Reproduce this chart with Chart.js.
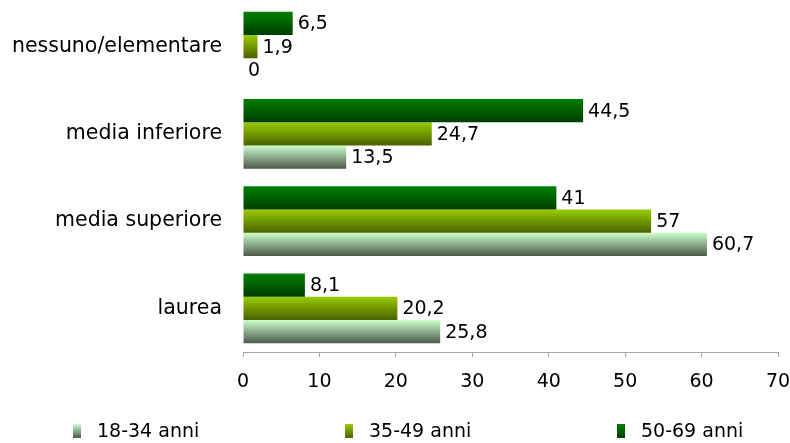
<!DOCTYPE html>
<html>
<head>
<meta charset="utf-8">
<script src="https://cdn.jsdelivr.net/npm/chart.js@4"></script>
<style>
  html, body { margin:0; padding:0; background:#fff; }
  #wrap { width:790px; height:443px; }
</style>
</head>
<body>
<div id="wrap"><canvas id="chart"></canvas></div>
<script>
// ---------- Data ----------
const categories = ['nessuno/elementare', 'media inferiore', 'media superiore', 'laurea'];
const seriesNames = ['50-69 anni', '35-49 anni', '18-34 anni'];
const values5069 = [6.5, 44.5, 41, 8.1];
const values3549 = [1.9, 24.7, 53.4, 20.2];   // bar for "media superiore" is drawn shorter than its label
const values1834 = [0, 13.5, 60.7, 25.8];
const labels5069 = ['6,5', '44,5', '41', '8,1'];
const labels3549 = ['1,9', '24,7', '57', '20,2'];
const labels1834 = ['0', '13,5', '60,7', '25,8'];
const xTicks = [0, 10, 20, 30, 40, 50, 60, 70];

const FONT = '"DejaVu Sans", sans-serif';

// top -> bottom colours of each gradient
const gradStops = [
  ['#008000', '#003d00'],
  ['#99cc00', '#4a6200'],
  ['#ccffcc', '#4a584a']
];

function vGrad(ctx, top, bottom, stops){
  const g = ctx.createLinearGradient(0, top, 0, bottom);
  g.addColorStop(0, stops[0]);
  g.addColorStop(1, stops[1]);
  return g;
}

/* ---------- gradients on bars ---------- */
const gradientPlugin = {
  id: 'gradients',
  beforeDatasetsDraw(chart){
    const ctx = chart.ctx;
    chart.data.datasets.forEach((ds, di)=>{
      const meta = chart.getDatasetMeta(di);
      meta.data.forEach(el=>{
        const h = el.height;
        el.options.backgroundColor = vGrad(ctx, el.y - h/2, el.y + h/2, gradStops[di]);
      });
    });
  }
};

/* ---------- value labels next to bar ends ---------- */
const valueLabels = {
  id: 'valueLabels',
  afterDatasetsDraw(chart){
    const ctx = chart.ctx;
    ctx.save();
    ctx.font = '19px ' + FONT;
    ctx.fillStyle = '#000';
    ctx.textAlign = 'left';
    ctx.textBaseline = 'middle';
    chart.data.datasets.forEach((ds, di)=>{
      const meta = chart.getDatasetMeta(di);
      meta.data.forEach((el, i)=>{
        ctx.fillText(ds.valueText[i], el.x + 5, el.y + 1);
      });
    });
    ctx.restore();
  }
};

/* ---------- bottom legend, wide spaced like the original ---------- */
const bottomLegend = {
  id: 'bottomLegend',
  afterDraw(chart){
    const ctx = chart.ctx;
    const order = [2, 1, 0];          // 18-34, 35-49, 50-69
    const startX = 73, step = 272, boxTop = 424, boxW = 8, boxH = 14;
    ctx.save();
    ctx.font = '19px ' + FONT;
    ctx.textBaseline = 'middle';
    order.forEach((di, k)=>{
      const x = startX + k*step;
      ctx.fillStyle = vGrad(ctx, boxTop, boxTop + boxH, gradStops[di]);
      ctx.fillRect(x, boxTop, boxW, boxH);
      ctx.fillStyle = '#000';
      ctx.fillText(chart.data.datasets[di].label, x + 24, boxTop + boxH/2 + 1);
    });
    ctx.restore();
  }
};

new Chart(document.getElementById('chart'), {
  type: 'bar',
  data: {
    labels: categories,
    datasets: [
      { label: seriesNames[0], data: values5069, valueText: labels5069 },
      { label: seriesNames[1], data: values3549, valueText: labels3549 },
      { label: seriesNames[2], data: values1834, valueText: labels1834 }
    ].map(d => Object.assign(d, {
      backgroundColor: () => '#888',
      borderWidth: 0,
      categoryPercentage: 0.8,
      barPercentage: 1.0
    }))
  },
  options: {
    indexAxis: 'y',
    responsive: true,
    maintainAspectRatio: false,
    animation: false,
    layout: { padding: { top: 3, right: 12, left: 0, bottom: 0 } },
    scales: {
      x: {
        min: 0, max: 70,
        afterBuildTicks(scale){ scale.ticks = xTicks.map(v => ({ value: v })); },
        afterFit(scale){ scale.height = 91; scale.paddingLeft = 0; scale.paddingRight = 0; },
        grid: { drawOnChartArea: false, drawTicks: true, tickLength: 5, color: '#a6a6a6' },
        border: { display: true, color: '#a6a6a6', width: 1 },
        ticks: { color: '#000', padding: 14, font: { family: FONT, size: 19 } }
      },
      y: {
        afterFit(scale){ scale.width = 243; scale.paddingTop = 0; scale.paddingBottom = 0; },
        grid: { display: false, drawTicks: false },
        border: { display: false },
        ticks: { color: '#000', padding: 21, font: { family: FONT, size: 20.5 } }
      }
    },
    plugins: {
      legend: { display: false },
      tooltip: { enabled: false }
    }
  },
  plugins: [gradientPlugin, valueLabels, bottomLegend]
});
</script>
</body>
</html>
